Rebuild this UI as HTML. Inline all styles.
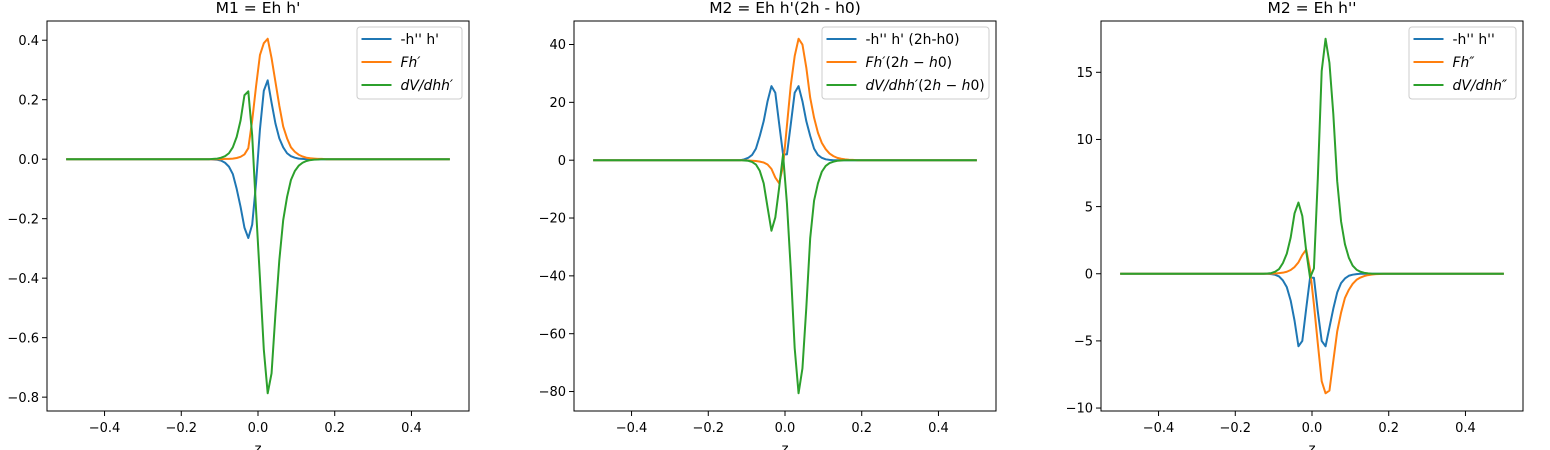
<!DOCTYPE html>
<html><head><meta charset="utf-8">
<style>
html,body{margin:0;padding:0;background:#fff;}
svg{display:block;font-family:"DejaVu Sans","Liberation Sans",sans-serif;}
</style></head>
<body>
<svg id="fig" width="1550" height="450" viewBox="0 0 1550 450" xmlns="http://www.w3.org/2000/svg"></svg>
<script>
// ---- data ----
const zCount = 100; // z = linspace(-0.5, 0.5, 100)
const xTicks = [-0.4, -0.2, 0.0, 0.2, 0.4];
const xTickLabels = ["\u22120.4", "\u22120.2", "0.0", "0.2", "0.4"];

const m1Blue = [
0,0,0,0,0,0,0,0,0,0, 0,0,0,0,0,0,0,0,0,0, 0,0,0,0,0,0,0,0,0,0, 0,0,0,0,0,0,0,0,
-0.001,-0.002,-0.005,-0.012,-0.025,-0.05,-0.1,-0.16,-0.23,-0.265,-0.22,-0.08,0.1,0.23,0.265,0.19,0.12,0.07,0.04,0.02,0.01,0.005,0.002,0.001,0,0,0,0,0,0,
0,0,0,0,0,0,0,0,0,0, 0,0,0,0,0,0,0,0,0,0, 0,0,0,0,0,0,0,0,0,0, 0,0];
const m1Orange = [
0,0,0,0,0,0,0,0,0,0, 0,0,0,0,0,0,0,0,0,0, 0,0,0,0,0,0,0,0,0,0, 0,0,0,0,0,0,0,0,
0,0,0,0.001,0.001,0.002,0.004,0.008,0.016,0.037,0.13,0.245,0.35,0.39,0.405,0.34,0.26,0.18,0.11,0.07,0.04,0.025,0.015,0.009,0.005,0.003,0.002,0.001,0.001,0,
0,0,0,0,0,0,0,0,0,0, 0,0,0,0,0,0,0,0,0,0, 0,0,0,0,0,0,0,0,0,0, 0,0];
const m1Green = [
0,0,0,0,0,0,0,0,0,0, 0,0,0,0,0,0,0,0,0,0, 0,0,0,0,0,0,0,0,0,0, 0,0,0,0,0,0,0,0,
0.001,0.002,0.005,0.01,0.02,0.04,0.075,0.13,0.215,0.228,0.08,-0.17,-0.40,-0.64,-0.787,-0.72,-0.52,-0.34,-0.205,-0.127,-0.07,-0.04,-0.022,-0.012,-0.006,-0.003,-0.0015,-0.001,0,0,
0,0,0,0,0,0,0,0,0,0, 0,0,0,0,0,0,0,0,0,0, 0,0,0,0,0,0,0,0,0,0, 0,0];
const m1YTicks = [-0.8, -0.6, -0.4, -0.2, 0.0, 0.2, 0.4];
const m1YTickLabels = ["\u22120.8","\u22120.6","\u22120.4","\u22120.2","0.0","0.2","0.4"];

const m2Blue = [
0,0,0,0,0,0,0,0,0,0, 0,0,0,0,0,0,0,0,0,0, 0,0,0,0,0,0,0,0,0,0, 0,0,0,0,0,0,0,0,
0,0.3,0.8,1.8,4,8.4,13.5,20.4,25.6,23.3,12.5,2,2,12.5,23.3,25.6,20.4,13.5,8.4,4,1.8,0.8,0.3,0.1,0,0,0,0,0,0,
0,0,0,0,0,0,0,0,0,0, 0,0,0,0,0,0,0,0,0,0, 0,0,0,0,0,0,0,0,0,0, 0,0];
const m2Orange = [
0,0,0,0,0,0,0,0,0,0, 0,0,0,0,0,0,0,0,0,0, 0,0,0,0,0,0,0,0,0,0, 0,0,0,0,0,0,0,0,
0,0,-0.1,-0.2,-0.3,-0.5,-0.8,-1.5,-3,-6,-8,-2,12,26,36,42,40,32,21.6,14.7,9.5,6,3.8,2.3,1.4,0.8,0.5,0.3,0.15,0.1,
0,0,0,0,0,0,0,0,0,0, 0,0,0,0,0,0,0,0,0,0, 0,0,0,0,0,0,0,0,0,0, 0,0];
const m2Green = [
0,0,0,0,0,0,0,0,0,0, 0,0,0,0,0,0,0,0,0,0, 0,0,0,0,0,0,0,0,0,0, 0,0,0,0,0,0,0,0,
0,-0.1,-0.2,-0.6,-1.5,-3.7,-8,-16.3,-24.4,-19.8,-9.4,2,-15,-38,-65,-80.6,-72,-51,-27,-14,-8,-4,-2,-1,-0.5,-0.2,-0.1,0,0,0,
0,0,0,0,0,0,0,0,0,0, 0,0,0,0,0,0,0,0,0,0, 0,0,0,0,0,0,0,0,0,0, 0,0];
const m2YTicks = [-80, -60, -40, -20, 0, 20, 40];
const m2YTickLabels = ["\u221280","\u221260","\u221240","\u221220","0","20","40"];

const m3Blue = [
0,0,0,0,0,0,0,0,0,0, 0,0,0,0,0,0,0,0,0,0, 0,0,0,0,0,0,0,0,0,0, 0,0,0,0,0,0,0,0,
0,-0.03,-0.08,-0.2,-0.5,-1.0,-2.0,-3.5,-5.4,-5.0,-2.6,-0.3,-0.3,-2.8,-5.0,-5.4,-4.0,-2.6,-1.4,-0.7,-0.35,-0.15,-0.07,-0.03,0,0,0,0,0,0,
0,0,0,0,0,0,0,0,0,0, 0,0,0,0,0,0,0,0,0,0, 0,0,0,0,0,0,0,0,0,0, 0,0];
const m3Orange = [
0,0,0,0,0,0,0,0,0,0, 0,0,0,0,0,0,0,0,0,0, 0,0,0,0,0,0,0,0,0,0, 0,0,0,0,0,0,0,0,
0,0.01,0.02,0.05,0.08,0.15,0.28,0.5,0.85,1.4,1.8,0.3,-2.3,-5.2,-8.0,-8.9,-8.7,-6.5,-4.3,-2.9,-1.8,-1.2,-0.75,-0.45,-0.28,-0.17,-0.1,-0.06,-0.03,-0.02,
0,0,0,0,0,0,0,0,0,0, 0,0,0,0,0,0,0,0,0,0, 0,0,0,0,0,0,0,0,0,0, 0,0];
const m3Green = [
0,0,0,0,0,0,0,0,0,0, 0,0,0,0,0,0,0,0,0,0, 0,0,0,0,0,0,0,0,0,0, 0,0,0,0,0,0,0,0,
0.02,0.05,0.15,0.35,0.8,1.5,2.7,4.5,5.3,4.3,1.7,-0.3,0.4,7.1,15.1,17.5,15.7,11.9,6.9,3.9,2.2,1.2,0.6,0.3,0.15,0.07,0.03,0,0,0,
0,0,0,0,0,0,0,0,0,0, 0,0,0,0,0,0,0,0,0,0, 0,0,0,0,0,0,0,0,0,0, 0,0];
const m3YTicks = [-10, -5, 0, 5, 10, 15];
const m3YTickLabels = ["\u221210","\u22125","0","5","10","15"];

// ---- drawing ----
const NS = "http://www.w3.org/2000/svg";
const svg = document.getElementById("fig");
const COLORS = ["#1f77b4", "#ff7f0e", "#2ca02c"];
const zs = [];
for (let i = 0; i < zCount; i++) zs.push(-0.5 + i / (zCount - 1));

function mk(tag, parent) { const e = document.createElementNS(NS, tag); parent.appendChild(e); return e; }

function drawPanel(p) {
  const g = mk("g", svg);
  
  
  const L = p.left, R = p.left + 422, T = 21, B = 411;
  const xMin = -0.55, xMax = 0.55;
  const xs = v => L + (v - xMin) / (xMax - xMin) * (R - L);
  let lo = Infinity, hi = -Infinity;
  p.series.forEach(s => s.forEach(v => { lo = Math.min(lo, v); hi = Math.max(hi, v); }));
  const pad = (hi - lo) * 0.05; const yMin = lo - pad, yMax = hi + pad;
  const ys = v => B - (v - yMin) / (yMax - yMin) * (B - T);

  p.series.forEach((s, k) => {
    const pl = mk("polyline", g);
    
    
    pl.setAttribute("points", s.map((v, i) => xs(zs[i]).toFixed(2) + "," + ys(v).toFixed(2)).join(" "));
    pl.setAttribute("fill", "none");
    pl.setAttribute("stroke", COLORS[k]);
    pl.setAttribute("stroke-width", "2");
    pl.setAttribute("stroke-linejoin", "round");
  });

  const fr = mk("rect", g);
  
  
  fr.setAttribute("x", L); fr.setAttribute("y", T);
  fr.setAttribute("width", R - L); fr.setAttribute("height", B - T);
  fr.setAttribute("fill", "none"); fr.setAttribute("stroke", "#000"); fr.setAttribute("stroke-width", "1");

  xTicks.forEach((t, i) => {
    const x = xs(t);
    const ln = mk("line", g);
    
    
    ln.setAttribute("x1", x); ln.setAttribute("x2", x); ln.setAttribute("y1", B); ln.setAttribute("y2", B + 5);
    ln.setAttribute("stroke", "#000");
    const tx = mk("text", g);
    
    
    tx.setAttribute("x", x); tx.setAttribute("y", 432);
    tx.setAttribute("text-anchor", "middle"); tx.setAttribute("font-size", "13");
    tx.textContent = xTickLabels[i];
  });
  p.yTicks.forEach((t, i) => {
    const y = ys(t);
    const ln = mk("line", g);
    
    
    ln.setAttribute("x1", L - 5); ln.setAttribute("x2", L); ln.setAttribute("y1", y); ln.setAttribute("y2", y);
    ln.setAttribute("stroke", "#000");
    const tx = mk("text", g);
    
    
    tx.setAttribute("x", L - 8); tx.setAttribute("y", y + 4.7);
    tx.setAttribute("text-anchor", "end"); tx.setAttribute("font-size", "13");
    tx.textContent = p.yTickLabels[i];
  });
  const ti = mk("text", g);
  
  
  ti.setAttribute("x", (L + R) / 2); ti.setAttribute("y", 13);
  ti.setAttribute("text-anchor", "middle"); ti.setAttribute("font-size", "15.5");
  ti.textContent = p.title;
  const xl = mk("text", g);
  
  
  xl.setAttribute("x", (L + R) / 2); xl.setAttribute("y", 453);
  xl.setAttribute("text-anchor", "middle"); xl.setAttribute("font-size", "13.5");
  xl.textContent = "z";
  const lg = mk("g", g);
  
  
  const box = mk("rect", lg);
  
  
  box.setAttribute("x", R - 7 - p.legendW); box.setAttribute("y", 27);
  box.setAttribute("width", p.legendW); box.setAttribute("height", 72);
  box.setAttribute("rx", 3);
  box.setAttribute("fill", "#fff"); box.setAttribute("fill-opacity", "0.8");
  box.setAttribute("stroke", "#ccc");
  p.legendHTML.forEach((h, k) => {
    const y = 39 + k * 23;
    const x0 = R - 7 - p.legendW + 4.5;
    const ln = mk("line", lg);
    
    
    ln.setAttribute("x1", x0); ln.setAttribute("x2", x0 + 30); ln.setAttribute("y1", y); ln.setAttribute("y2", y);
    ln.setAttribute("stroke", COLORS[k]); ln.setAttribute("stroke-width", "2");
    const tx = mk("text", lg);
    
    
    tx.setAttribute("x", x0 + 39); tx.setAttribute("y", y + 5);
    tx.setAttribute("font-size", "13.9");
    tx.innerHTML = h;
  });
}

const I = s => '<tspan font-style="italic">' + s + '</tspan>';
drawPanel({ name: "panel-m1", left: 47, title: "M1 = Eh h'",
  series: [m1Blue, m1Orange, m1Green], seriesNames: ["line-hpp-hp", "line-fhp", "line-dvdhhp"],
  yTicks: m1YTicks, yTickLabels: m1YTickLabels, legendW: 105,
  legendHTML: ["-h'' h'", I("Fh\u2032"), I("dV/dhh\u2032")] });
drawPanel({ name: "panel-m2a", left: 574, title: "M2 = Eh h'(2h - h0)",
  series: [m2Blue, m2Orange, m2Green], seriesNames: ["line-hpp-hp-2h-h0", "line-fhp-2h-h0", "line-dvdhhp-2h-h0"],
  yTicks: m2YTicks, yTickLabels: m2YTickLabels, legendW: 167,
  legendHTML: ["-h'' h' (2h-h0)", I("Fh\u2032") + "(2" + I("h") + " \u2212 " + I("h") + "0)", I("dV/dhh\u2032") + "(2" + I("h") + " \u2212 " + I("h") + "0)"] });
drawPanel({ name: "panel-m2b", left: 1101, title: "M2 = Eh h''",
  series: [m3Blue, m3Orange, m3Green], seriesNames: ["line-hpp-hpp", "line-fhpp", "line-dvdhhpp"],
  yTicks: m3YTicks, yTickLabels: m3YTickLabels, legendW: 107,
  legendHTML: ["-h'' h''", I("Fh\u2033"), I("dV/dhh\u2033")] });
</script>
</body></html>
